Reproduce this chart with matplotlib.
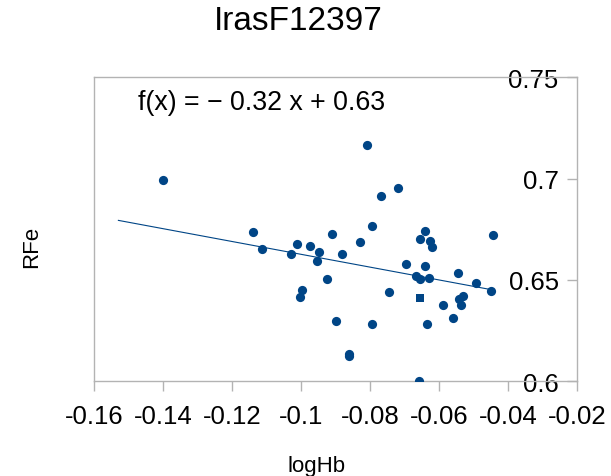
#!/usr/bin/env python3
"""Scatter of RFe against logHb for IrasF12397 with a linear trend line."""

import matplotlib

matplotlib.use("Agg")

import matplotlib.pyplot as plt
import numpy as np
from matplotlib.ticker import FixedFormatter, FixedLocator

plt.rcParams["font.family"] = ["Liberation Sans", "DejaVu Sans"]
plt.rcParams["axes.unicode_minus"] = False

TITLE = "IrasF12397"
X_LABEL = "logHb"
Y_LABEL = "RFe"
EQUATION = "f(x) = \u2212 0.32 x + 0.63"

LOG_HB = [
    -0.1402, -0.1140, -0.1112, -0.1029, -0.1012, -0.0974, -0.0948, -0.0953,
    -0.0925, -0.0909, -0.0882, -0.0996, -0.1002, -0.0899, -0.0861, -0.0861,
    -0.0829, -0.0809, -0.0793, -0.0793, -0.0767, -0.0720, -0.0745, -0.0694,
    -0.0654, -0.0639, -0.0625, -0.0620, -0.0639, -0.0665, -0.0654, -0.0629,
    -0.0634, -0.0659, -0.0589, -0.0559, -0.0545, -0.0541, -0.0529, -0.0535,
    -0.0491, -0.0448, -0.0443,
]
RFE = [
    0.6995, 0.6738, 0.6653, 0.6628, 0.6676, 0.6666, 0.6640, 0.6592,
    0.6506, 0.6726, 0.6628, 0.6451, 0.6418, 0.6296, 0.6135, 0.6126,
    0.6688, 0.7166, 0.6768, 0.6281, 0.6916, 0.6956, 0.6439, 0.6579,
    0.6701, 0.6740, 0.6694, 0.6664, 0.6569, 0.6521, 0.6506, 0.6511,
    0.6284, 0.6001, 0.6377, 0.6314, 0.6535, 0.6406, 0.6421, 0.6377,
    0.6485, 0.6447, 0.6724,
]
# one point drawn with a square marker
SQUARE_LOG_HB = [-0.0654]
SQUARE_RFE = [0.6410]

TREND_START = -0.153

X_TICKS = [-0.16, -0.14, -0.12, -0.10, -0.08, -0.06, -0.04, -0.02]
X_TICK_LABELS = ["-0.16", "-0.14", "-0.12", "-0.1", "-0.08", "-0.06", "-0.04", "-0.02"]
Y_TICKS = [0.60, 0.65, 0.70, 0.75]
Y_TICK_LABELS = ["0.6", "0.65", "0.7", "0.75"]

BLUE = "#004586"
FRAME = "#b3b3b3"


def main() -> None:
    fig = plt.figure(figsize=(6.11, 4.77), dpi=100)
    ax = fig.add_axes([0.1543, 0.1985, 0.7896, 0.6373])

    all_x = np.array(LOG_HB + SQUARE_LOG_HB)
    all_y = np.array(RFE + SQUARE_RFE)
    slope, intercept = np.polyfit(all_x, all_y, 1)
    trend_x = np.array([TREND_START, all_x.max()])
    ax.plot(trend_x, slope * trend_x + intercept, color=BLUE, linewidth=0.8, zorder=2)

    ax.scatter(LOG_HB, RFE, s=44, color=BLUE, linewidths=0, zorder=3)
    ax.scatter(SQUARE_LOG_HB, SQUARE_RFE, s=40, marker="s", color=BLUE, linewidths=0, zorder=3)

    ax.set_xlim(-0.16, -0.02)
    ax.set_ylim(0.6, 0.75)

    # the value axis sits on the right edge with labels inside the frame
    ax.spines["left"].set_position(("data", -0.02))
    ax.spines["right"].set_position(("data", -0.16))
    for spine in ax.spines.values():
        spine.set_color(FRAME)
        spine.set_linewidth(1.0)

    ax.xaxis.set_major_locator(FixedLocator(X_TICKS))
    ax.xaxis.set_major_formatter(FixedFormatter(X_TICK_LABELS))
    ax.yaxis.set_major_locator(FixedLocator(Y_TICKS))
    ax.yaxis.set_major_formatter(FixedFormatter(Y_TICK_LABELS))
    ax.tick_params(axis="x", direction="out", length=7.5, width=1.0, color=FRAME,
                   labelsize=18.5, labelcolor="#000000", pad=9)
    ax.tick_params(axis="y", direction="out", length=7.0, width=1.0, color=FRAME,
                   labelsize=18.5, labelcolor="#000000", pad=6)

    ax.set_xlabel(X_LABEL, fontsize=16)
    ax.xaxis.label.set_va("center")
    ax.xaxis.set_label_coords(0.4605, -0.278)
    ax.set_ylabel(Y_LABEL, fontsize=16)
    ax.yaxis.label.set_va("center")
    ax.yaxis.set_label_coords(-0.129, 0.445)

    fig.suptitle(TITLE, x=0.4885, y=0.954, va="center", fontsize=24)

    ax.text(0.0906, 0.9188, EQUATION, transform=ax.transAxes, ha="left", va="center",
            fontsize=19.3, color="#000000")

    fig.savefig("out.png", dpi=100, facecolor="white")
    plt.close(fig)


if __name__ == "__main__":
    main()
